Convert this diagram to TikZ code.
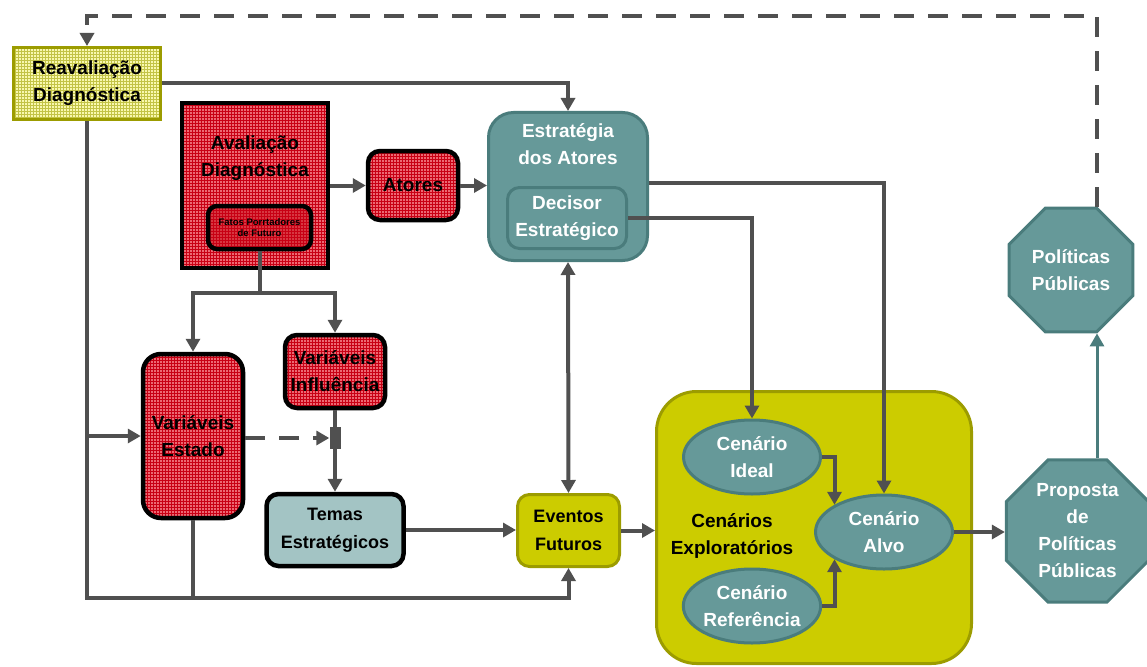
\documentclass[tikz,border=0pt]{standalone}
\usepackage{fontspec}
\setmainfont{Liberation Sans}
\usepackage{tikz}
\usetikzlibrary{arrows.meta,positioning,calc,shapes.geometric,patterns}
\definecolor{lineg}{HTML}{505050}
\definecolor{tealf}{HTML}{669999}
\definecolor{tealdk}{HTML}{4A7C7C}
\definecolor{cenyel}{HTML}{CCCC00}
\definecolor{cenedge}{HTML}{9C9C00}
\definecolor{gridpink}{RGB}{236,105,115}
\definecolor{gridred}{RGB}{200,0,20}
\definecolor{fatospink}{RGB}{215,55,65}
\definecolor{reavfill}{RGB}{248,248,175}
\definecolor{reavgrid}{RGB}{195,195,70}
\definecolor{temasfill}{HTML}{A3C4C4}
\tikzset{
  >={Triangle[length=13pt,width=14pt]},
  conn/.style={->,line width=4pt,lineg},
  plain/.style={line width=4pt,lineg},
  dashconn/.style={conn,dash pattern=on 20pt off 14pt},
  txt/.style={font=\bfseries\fontsize{19}{27}\selectfont,align=center},
  smalltxt/.style={font=\bfseries\fontsize{18}{28}\selectfont,align=center},
  redbox/.style={txt,draw=black,line width=4.5pt,preaction={fill=gridpink},
    pattern=grid,pattern color=gridred,rounded corners=12pt,inner sep=0pt},
  tealbox/.style={txt,text=white,draw=tealdk,line width=3pt,fill=tealf,inner sep=0pt},
  yelbox/.style={draw=cenedge,line width=3pt,fill=cenyel,inner sep=0pt},
  scen/.style={tealbox,ellipse,minimum width=137pt,minimum height=74pt},
  octo/.style={tealbox,regular polygon,regular polygon sides=8}
}
\begin{document}
\begin{tikzpicture}[x=1pt,y=-1pt]
\useasboundingbox (0,0) rectangle (1147,666);

\node[txt,draw=cenedge,line width=3pt,preaction={fill=reavfill},pattern=grid,pattern color=reavgrid,
  inner sep=0pt,minimum width=147pt,minimum height=72pt] (reav) at (87,83.5) {Reavaliação\\Diagnóstica};
\node[redbox,rounded corners=0pt,minimum width=146pt,minimum height=165pt] (aval) at (255,185.5) {};
\node[txt] (avaltxt) at (255,158) {Avaliação\\Diagnóstica};
\node[redbox,preaction={fill=fatospink},rounded corners=9pt,minimum width=103pt,minimum height=43pt,
  font=\bfseries\fontsize{9.5}{11}\selectfont] (fatos) at (259.5,227.5) {Fatos Porrtadores\\de Futuro};
\node[redbox,minimum width=90pt,minimum height=69pt] (atores) at (413,185.5) {Atores};

\node[tealbox,rounded corners=25pt,minimum width=159pt,minimum height=148pt] (estr) at (568,186.5) {};
\node[txt,text=white] (estrtxt) at (568,144) {Estratégia\\dos Atores};
\node[tealbox,rounded corners=12pt,minimum width=119pt,minimum height=61pt] (decisor) at (567,218) {Decisor\\Estratégico};

\node[redbox,rounded corners=18pt,minimum width=100pt,minimum height=164pt] (estado) at (193,436) {Variáveis\\Estado};
\node[redbox,minimum width=100pt,minimum height=73pt] (influ) at (335,371.5) {Variáveis\\Influência};
\node[fill=lineg,inner sep=0pt,minimum width=11pt,minimum height=22pt] (junc) at (335,438) {};
\node[smalltxt,draw=black,line width=4.5pt,fill=temasfill,rounded corners=12pt,inner sep=0pt,
  minimum width=137pt,minimum height=72pt] (temas) at (335,530) {Temas\\Estratégicos};
\node[smalltxt,yelbox,rounded corners=12pt,minimum width=102pt,minimum height=72pt] (eventos) at (568.5,530.5) {Eventos\\Futuros};

\node[yelbox,rounded corners=40pt,minimum width=315pt,minimum height=272pt] (cenbox) at (814,527.5) {};
\node[txt] (cenexp) at (732,536) {Cenários\\Exploratórios};
\node[scen] (ideal) at (752,457) {Cenário\\Ideal};
\node[scen] (refer) at (752,606) {Cenário\\Referência};
\node[scen] (alvo) at (884,532) {Cenário\\Alvo};

\node[octo,minimum size=154pt] (prop) at (1077.5,531) {Proposta\\de\\Políticas\\Públicas};
\node[octo,minimum size=134pt] (polit) at (1071,270) {Políticas\\Públicas};

\coordinate (rx) at (1097,0);
\coordinate (bot) at (0,598);
\coordinate (fork) at ($(fatos.south)+(0,42)$);

\draw[dashconn] (polit.north -| rx) |- ($(reav.north)+(0,-30)$) -- (reav.north);
\draw[conn] (reav.east) -| (estr.north);
\draw[conn] (reav.south) |- (bot -| eventos.south) -- (eventos.south);
\draw[conn] (reav.south |- estado.west) -- (estado.west);
\draw[plain] (estado.south) -- (estado.south |- bot);
\draw[conn] (aval.east) -- (atores.west);
\draw[conn] (atores.east) -- (atores.east -| estr.west);
\draw[conn] (estr.east |- 0,183) -| (alvo.north);
\draw[conn] (decisor.east) -| (ideal.north);
\draw[plain] (fatos.south) -- (fork);
\draw[conn] (fork) -| (estado.north);
\draw[conn] (fork) -| (influ.north);
\draw[plain] (influ.south) -- (junc.north);
\draw[conn] (junc.south) -- (temas.north);
\draw[dashconn] (estado.east |- junc.west) -- (junc.west);
\draw[conn] (temas.east) -- (temas.east -| eventos.west);
\draw[conn,<->] (estr.south) -- (eventos.north);
\draw[conn] (eventos.east) -- (eventos.east -| cenbox.west);
\draw[conn] (ideal.east) -| (alvo.north west);
\draw[conn] (refer.east) -| (alvo.south west);
\draw[conn] (alvo.east) -- (alvo.east -| prop.west);
\draw[->,line width=3pt,tealdk] (prop.north -| rx) -- (polit.south -| rx);
\end{tikzpicture}
\end{document}
